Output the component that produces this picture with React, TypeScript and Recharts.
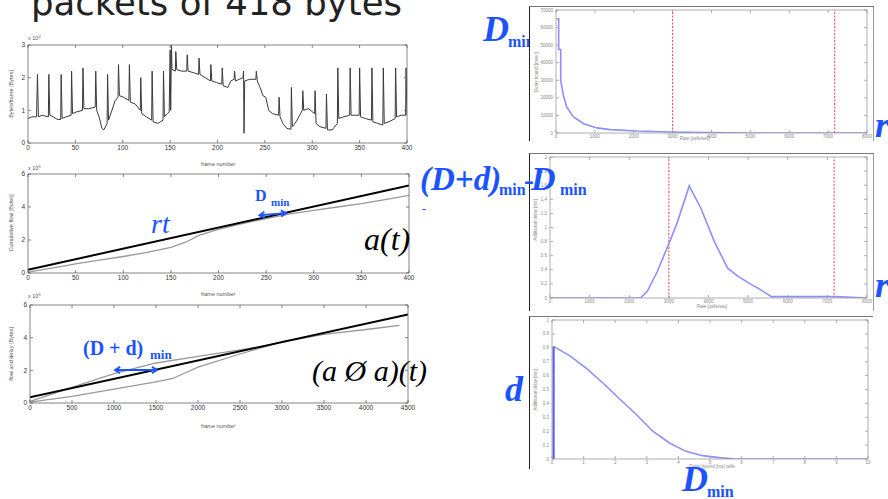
import React from 'react';
import { LineChart, Line, XAxis, YAxis, ReferenceLine } from 'recharts';

// ---------- Plot 1: bytes per frame (x 10^4) ----------
const p1Frames = [0, 4, 9, 10, 11, 15, 21.5, 22, 23, 27, 31, 34.5, 35, 36, 40, 45.5, 46, 47, 51, 57.5, 58, 59, 64, 71, 71.5, 72.5, 75, 78, 80, 83.5, 84, 85, 88, 92, 95, 95.5, 96.5, 101, 106.5, 107, 108, 113, 118.5, 119, 120, 125, 130.5, 131, 132, 137, 142.5, 143, 144, 147, 149, 150, 150.6, 151.4, 152, 155.5, 156, 157, 162, 167.5, 168, 169, 175, 180, 180.5, 181.5, 187, 192.5, 193, 194, 199, 204.5, 205, 206, 211, 214, 217.5, 218, 219, 223, 227, 227.5, 228, 228.7, 234, 240.5, 241, 242, 245, 248, 251, 254, 258, 264.5, 265, 266, 269, 273, 277.5, 278, 279, 283, 289.5, 290, 291, 296, 302.5, 303, 304, 308, 314.5, 315, 316, 321, 326.5, 327, 328, 333, 339.5, 340, 341, 345, 349.5, 350, 351, 356, 362.5, 363, 364, 369, 374.5, 375, 376, 381, 387.5, 388, 389, 394, 398.5, 399, 400];
const p1Bytes = [0.75, 0.8, 0.8, 2.1, 0.8, 0.85, 0.8, 2.1, 0.85, 0.8, 0.72, 0.72, 2.1, 0.75, 0.8, 0.85, 2.2, 0.9, 0.95, 1.0, 2.3, 1.05, 1.05, 1.1, 2.2, 1.0, 0.8, 0.45, 0.4, 0.6, 2.1, 0.7, 0.95, 1.3, 1.4, 2.4, 1.45, 1.4, 1.3, 2.4, 1.25, 1.2, 1.0, 2.0, 0.9, 0.8, 0.7, 2.2, 0.65, 0.6, 0.7, 2.2, 0.8, 0.9, 0.95, 2.85, 1.0, 3.0, 2.25, 2.2, 2.8, 2.25, 2.2, 2.2, 2.7, 2.2, 2.15, 2.1, 2.6, 2.1, 2.0, 1.9, 2.4, 1.9, 1.85, 1.8, 2.3, 1.75, 1.7, 1.9, 1.95, 2.2, 1.9, 1.95, 2.0, 2.2, 0.3, 1.9, 1.95, 1.95, 2.2, 1.9, 1.7, 1.45, 1.4, 1.0, 0.9, 0.85, 1.4, 0.8, 0.6, 0.45, 0.42, 1.7, 0.5, 0.65, 1.0, 1.6, 1.0, 1.05, 0.9, 1.6, 0.6, 0.5, 0.45, 1.5, 0.4, 0.4, 0.6, 2.3, 0.75, 0.8, 0.85, 2.3, 0.85, 0.85, 0.85, 2.3, 0.8, 0.75, 0.7, 2.3, 0.65, 0.6, 0.55, 2.3, 0.6, 0.65, 0.75, 2.3, 0.8, 0.85, 0.85, 2.3, 0.85];

// ---------- Plot 2: cumulative flow a(t) and rt (x 10^5) ----------
const p2Frames = [0, 25, 50, 75, 100, 125, 150, 165, 180, 200, 225, 250, 275, 300, 325, 350, 375, 400];
const p2Cum = [0.05, 0.3, 0.55, 0.78, 1.0, 1.25, 1.55, 1.85, 2.3, 2.65, 3.0, 3.3, 3.58, 3.8, 4.0, 4.2, 4.45, 4.7];
const rtFrames = [0, 400];
const rtValues = [0.2, 5.3];

// ---------- Plot 3: (a ⊘ a)(t) ----------
const p3UpperX = [0, 500, 1000, 1500, 2000, 2500, 2800];
const p3UpperY = [0.1, 0.95, 1.8, 2.45, 2.85, 3.25, 3.5];
const p3LowerX = [0, 500, 1000, 1500, 1700, 2000, 2500, 2800, 3000, 3500, 4000, 4400];
const p3LowerY = [0.05, 0.4, 0.85, 1.3, 1.5, 2.2, 3.0, 3.45, 3.75, 4.2, 4.5, 4.75];
const p3LineX = [0, 4500];
const p3LineY = [0.35, 5.42];

// ---------- Right 1: D_min vs r ----------
const r1Rate = [17, 69, 69, 121, 121, 190, 276, 449, 708, 1053, 1398, 2088, 2951, 3815, 5000, 8000];
const r1Dmin = [6.5, 6.5, 4.75, 4.75, 3.0, 2.15, 1.48, 0.91, 0.53, 0.29, 0.19, 0.11, 0.06, 0.02, 0, 0];

// ---------- Right 2: (D+d)_min - D_min vs r ----------
const r2Rate = [0, 2286, 2455, 2709, 3022, 3217, 3513, 3810, 4148, 4487, 4741, 5080, 5249, 5587, 7196, 8000];
const r2Diff = [0, 0, 0.094, 0.376, 0.8, 1.08, 1.59, 1.27, 0.8, 0.42, 0.31, 0.19, 0.14, 0.02, 0.02, 0];

// ---------- Right 3: d vs D_min ----------
const r3Dmin = [0.05, 0.58, 1.1, 1.62, 2.15, 2.67, 3.19, 3.72, 4.24, 4.76, 5.29, 5.8, 10];
const r3D = [0.81, 0.74, 0.65, 0.545, 0.43, 0.32, 0.2, 0.115, 0.055, 0.024, 0.01, 0, 0];
const r3JumpX = [0.05, 0.05];
const r3JumpY = [0, 0.81];

const redRates = [3000, 7170];

const zip = (xs: number[], ys: number[]) => xs.map((x, i) => ({ x, y: ys[i] }));

const P = 26;
type Rect = { x: number; y: number; w: number; h: number };

const NoTick = () => <g />;

const Arrow = (props: any) => {
  const { x1, y1, x2, y2 } = props;
  const a = Math.atan2(y2 - y1, x2 - x1);
  const h = 6;
  const head = (x: number, y: number, ang: number) =>
    `M${x + h * Math.cos(ang + 0.55)},${y + h * Math.sin(ang + 0.55)} L${x},${y} L${x + h * Math.cos(ang - 0.55)},${y + h * Math.sin(ang - 0.55)}`;
  return (
    <g stroke="#1a53ff" strokeWidth={1.8} fill="none">
      <line x1={x1} y1={y1} x2={x2} y2={y2} />
      <path d={head(x1, y1, a)} />
      <path d={head(x2, y2, a + Math.PI)} />
    </g>
  );
};

function Plot(props: {
  rect: Rect;
  xDomain: [number, number];
  yDomain: [number, number];
  xTicks: number[];
  yTicks: number[];
  fontSize: number;
  axisColor: string;
  textColor: string;
  yFmt?: (v: number) => string;
  children: React.ReactNode;
}) {
  const { rect, xDomain, yDomain, xTicks, yTicks, fontSize, axisColor, textColor, yFmt } = props;
  const tickStyle = { fontSize, fill: textColor, fontFamily: 'Liberation Sans' };
  const common = { stroke: axisColor, strokeWidth: 0.8 };
  return (
    <div style={{ position: 'absolute', left: rect.x - P, top: rect.y - P, zIndex: 2 }}>
      <LineChart width={rect.w + 2 * P} height={rect.h + 2 * P} margin={{ top: 0, right: 0, bottom: 0, left: 0 }}>
        <XAxis xAxisId="b" type="number" dataKey="x" domain={xDomain} ticks={xTicks} allowDataOverflow interval={0}
          orientation="bottom" height={P} tick={tickStyle} tickSize={-3} tickMargin={5} axisLine={common} tickLine={common} />
        <XAxis xAxisId="t" type="number" dataKey="x" domain={xDomain} ticks={xTicks} allowDataOverflow interval={0}
          orientation="top" height={P} tick={NoTick} tickSize={-3} axisLine={common} tickLine={common} />
        <YAxis yAxisId="l" type="number" dataKey="y" domain={yDomain} ticks={yTicks} allowDataOverflow interval={0}
          orientation="left" width={P} tick={tickStyle} tickSize={-3} tickMargin={6} axisLine={common} tickLine={common}
          tickFormatter={yFmt} />
        <YAxis yAxisId="r" type="number" dataKey="y" domain={yDomain} ticks={yTicks} allowDataOverflow interval={0}
          orientation="right" width={P} tick={NoTick} tickSize={-3} axisLine={common} tickLine={common} />
        {props.children}
      </LineChart>
    </div>
  );
}

const blue = '#1a53ff';
const curveBlue = '#8e8eff';

export default function App() {
  const serif = 'Liberation Serif';
  const tiny = { fontFamily: 'Liberation Sans', fontSize: 5.5, fill: '#555' };
  const tinyR = { fontFamily: 'Liberation Sans', fontSize: 4.5, fill: '#888' };
  return (
    <div style={{ position: 'absolute', left: 0, top: 0, width: 888, height: 499, background: '#fff', overflow: 'hidden' }}>
      {/* under layer */}
      <svg width={888} height={499} style={{ position: 'absolute', left: 0, top: 0, zIndex: 0 }}>
        <text x={483} y={41} fontFamily={serif} fontSize={36} fontWeight="bold" fontStyle="italic" fill={blue}>D</text>
        <text x={508} y={47} fontFamily={serif} fontSize={16} fontWeight="bold" fill={blue}>min</text>
      </svg>

      {/* frames of right pictures */}
      <div style={{ position: 'absolute', left: 529, top: 6, width: 343, height: 134, background: '#fff', borderTop: '1px solid #777', borderLeft: '1.5px solid #222', borderRight: '1px solid #999', zIndex: 1 }} />
      <div style={{ position: 'absolute', left: 529, top: 153, width: 343, height: 157, background: '#fff', borderTop: '1px solid #777', borderLeft: '1.5px solid #222', borderRight: '1px solid #999', zIndex: 1 }} />
      <div style={{ position: 'absolute', left: 529, top: 316, width: 343, height: 152, background: '#fff', borderTop: '1px solid #777', borderLeft: '1.5px solid #222', zIndex: 1 }} />

      {/* left plots */}
      <Plot rect={{ x: 28, y: 45, w: 379, h: 98 }} xDomain={[0, 400]} yDomain={[0, 3]}
        xTicks={[0, 50, 100, 150, 200, 250, 300, 350, 400]} yTicks={[0, 1, 2, 3]}
        fontSize={6.5} axisColor="#666" textColor="#333">
        <Line xAxisId="b" yAxisId="l" data={zip(p1Frames, p1Bytes)} dataKey="y" stroke="#3a3a3a" strokeWidth={1}
          dot={false} isAnimationActive={false} type="linear" />
      </Plot>

      <Plot rect={{ x: 28, y: 174, w: 381, h: 99 }} xDomain={[0, 400]} yDomain={[0, 6]}
        xTicks={[0, 50, 100, 150, 200, 250, 300, 350, 400]} yTicks={[0, 2, 4, 6]}
        fontSize={6.5} axisColor="#666" textColor="#333">
        <Line xAxisId="b" yAxisId="l" data={zip(p2Frames, p2Cum)} dataKey="y" stroke="#999" strokeWidth={1.3}
          dot={false} isAnimationActive={false} type="linear" />
        <Line xAxisId="b" yAxisId="l" data={zip(rtFrames, rtValues)} dataKey="y" stroke="#000" strokeWidth={2}
          dot={false} isAnimationActive={false} type="linear" />
        <ReferenceLine xAxisId="b" yAxisId="l" segment={[{ x: 243, y: 3.5 }, { x: 271, y: 3.63 }]} shape={Arrow} />
      </Plot>

      <Plot rect={{ x: 30, y: 305, w: 378, h: 98 }} xDomain={[0, 4500]} yDomain={[0, 6]}
        xTicks={[0, 500, 1000, 1500, 2000, 2500, 3000, 3500, 4000, 4500]} yTicks={[0, 2, 4, 6]}
        fontSize={6.5} axisColor="#666" textColor="#333">
        <Line xAxisId="b" yAxisId="l" data={zip(p3UpperX, p3UpperY)} dataKey="y" stroke="#999" strokeWidth={1.3}
          dot={false} isAnimationActive={false} type="linear" />
        <Line xAxisId="b" yAxisId="l" data={zip(p3LowerX, p3LowerY)} dataKey="y" stroke="#999" strokeWidth={1.3}
          dot={false} isAnimationActive={false} type="linear" />
        <Line xAxisId="b" yAxisId="l" data={zip(p3LineX, p3LineY)} dataKey="y" stroke="#000" strokeWidth={2}
          dot={false} isAnimationActive={false} type="linear" />
        <ReferenceLine xAxisId="b" yAxisId="l" segment={[{ x: 1012, y: 2.02 }, { x: 1512, y: 2.02 }]} shape={Arrow} />
      </Plot>

      {/* right plots */}
      <Plot rect={{ x: 556, y: 10, w: 311, h: 123 }} xDomain={[0, 8000]} yDomain={[0, 7]}
        xTicks={[0, 1000, 2000, 3000, 4000, 5000, 6000, 7000, 8000]} yTicks={[0, 1, 2, 3, 4, 5, 6, 7]}
        fontSize={4.5} axisColor="#999" textColor="#888" yFmt={(v) => String(v * 10000)}>
        {redRates.map((r) => (
          <ReferenceLine key={r} xAxisId="b" yAxisId="l" x={r} stroke="#ff3b3b" strokeWidth={1} strokeDasharray="2 1.5" />
        ))}
        <Line xAxisId="b" yAxisId="l" data={zip(r1Rate, r1Dmin)} dataKey="y" stroke={curveBlue} strokeWidth={1.6}
          dot={false} isAnimationActive={false} type="linear" />
      </Plot>

      <Plot rect={{ x: 550, y: 157, w: 317, h: 141 }} xDomain={[0, 8000]} yDomain={[0, 2]}
        xTicks={[0, 1000, 2000, 3000, 4000, 5000, 6000, 7000, 8000]} yTicks={[0, 0.2, 0.4, 0.6, 0.8, 1, 1.2, 1.4, 1.6, 1.8, 2]}
        fontSize={4.5} axisColor="#999" textColor="#888">
        {redRates.map((r) => (
          <ReferenceLine key={r} xAxisId="b" yAxisId="l" x={r} stroke="#ff3b3b" strokeWidth={1} strokeDasharray="2 1.5" />
        ))}
        <Line xAxisId="b" yAxisId="l" data={zip(r2Rate, r2Diff)} dataKey="y" stroke={curveBlue} strokeWidth={1.6}
          dot={false} isAnimationActive={false} type="linear" />
      </Plot>

      <Plot rect={{ x: 552, y: 320, w: 316, h: 139 }} xDomain={[0, 10]} yDomain={[0, 1]}
        xTicks={[0, 1, 2, 3, 4, 5, 6, 7, 8, 9, 10]} yTicks={[0, 0.1, 0.2, 0.3, 0.4, 0.5, 0.6, 0.7, 0.8, 0.9, 1]}
        fontSize={4.5} axisColor="#999" textColor="#888">
        <Line xAxisId="b" yAxisId="l" data={zip(r3Dmin, r3D)} dataKey="y" stroke={curveBlue} strokeWidth={1.6}
          dot={false} isAnimationActive={false} type="linear" />
        <Line xAxisId="b" yAxisId="l" data={zip(r3JumpX, r3JumpY)} dataKey="y" stroke="#5a5aff" strokeWidth={2.2}
          dot={false} isAnimationActive={false} type="linear" />
      </Plot>

      {/* over layer: text annotations */}
      <svg width={888} height={499} style={{ position: 'absolute', left: 0, top: 0, zIndex: 3, pointerEvents: 'none' }}>
        <text x={31} y={15} fontFamily="DejaVu Sans" fontSize={35.5} fill="#222">packets of 418 bytes</text>

        {/* left plot small labels */}
        <text x={28} y={40} {...tiny}>x 10<tspan dy={-2} fontSize={4}>4</tspan></text>
        <text x={28} y={170} {...tiny}>x 10<tspan dy={-2} fontSize={4}>5</tspan></text>
        <text x={28} y={298} {...tiny}>x 10<tspan dy={-2} fontSize={4}>5</tspan></text>
        <text x={218} y={166} textAnchor="middle" {...tiny}>frame number</text>
        <text x={218} y={296} textAnchor="middle" {...tiny}>frame number</text>
        <text x={218} y={428} textAnchor="middle" {...tiny}>frame number</text>
        <text transform="translate(13,94) rotate(-90)" textAnchor="middle" {...tiny}>Bytes/frame [Bytes]</text>
        <text transform="translate(13,223) rotate(-90)" textAnchor="middle" {...tiny}>Cumulative flow [Bytes]</text>
        <text transform="translate(13,354) rotate(-90)" textAnchor="middle" {...tiny}>flow and delay [Bytes]</text>

        {/* right plot small labels */}
        <text x={695} y={140} textAnchor="middle" {...tinyR}>Rate [cells/sec]</text>
        <text x={712} y={308} textAnchor="middle" {...tinyR}>Rate [cells/sec]</text>
        <text x={712} y={468} textAnchor="middle" {...tinyR}>Delay bound [ms] cells</text>
        <text transform="translate(538,72) rotate(-90)" textAnchor="middle" {...tinyR}>Delay bound [msec]</text>
        <text transform="translate(537,220) rotate(-90)" textAnchor="middle" {...tinyR}>Additional delay [ms]</text>
        <text transform="translate(537,390) rotate(-90)" textAnchor="middle" {...tinyR}>Additional delay [ms]</text>

        {/* left annotations */}
        <text x={151} y={233} fontFamily={serif} fontSize={28} fontStyle="italic" fill={blue}>rt</text>
        <text x={255} y={201} fontFamily={serif} fontSize={16} fontWeight="bold" fill={blue}>D</text>
        <text x={271} y={206} fontFamily={serif} fontSize={11} fontWeight="bold" fill={blue}>min</text>
        <text x={364} y={250} fontFamily={serif} fontSize={32} fontStyle="italic" fill="#000">a(t)</text>
        <text x={83} y={355} fontFamily={serif} fontSize={20} fontWeight="bold" fill={blue}>(D + d)</text>
        <text x={150} y={359} fontFamily={serif} fontSize={13} fontWeight="bold" fill={blue}>min</text>
        <text x={312} y={381} fontFamily={serif} fontSize={30} fontStyle="italic" fill="#000">(a Ø a)(t)</text>

        {/* right annotations */}
        <text x={420} y={190} fontFamily={serif} fontSize={33} fontWeight="bold" fontStyle="italic" fill={blue}>(D+d)</text>
        <text x={499} y={195} fontFamily={serif} fontSize={16} fontWeight="bold" fill={blue}>min</text>
        <text x={524} y={190} fontFamily={serif} fontSize={30} fontWeight="bold" fill={blue}>-</text>
        <text x={531} y={190} fontFamily={serif} fontSize={34} fontWeight="bold" fontStyle="italic" fill={blue}>D</text>
        <text x={560} y={195} fontFamily={serif} fontSize={16} fontWeight="bold" fill={blue}>min</text>
        <text x={422} y={213} fontFamily={serif} fontSize={12} fontWeight="bold" fill={blue}>-</text>
        <text x={875} y={137} fontFamily={serif} fontSize={36} fontWeight="bold" fontStyle="italic" fill={blue}>r</text>
        <text x={875} y={297} fontFamily={serif} fontSize={36} fontWeight="bold" fontStyle="italic" fill={blue}>r</text>
        <text x={505} y={401} fontFamily={serif} fontSize={36} fontWeight="bold" fontStyle="italic" fill={blue}>d</text>
        <text x={682} y={491} fontFamily={serif} fontSize={36} fontWeight="bold" fontStyle="italic" fill={blue}>D</text>
        <text x={707} y={497} fontFamily={serif} fontSize={16} fontWeight="bold" fill={blue}>min</text>
      </svg>
    </div>
  );
}
